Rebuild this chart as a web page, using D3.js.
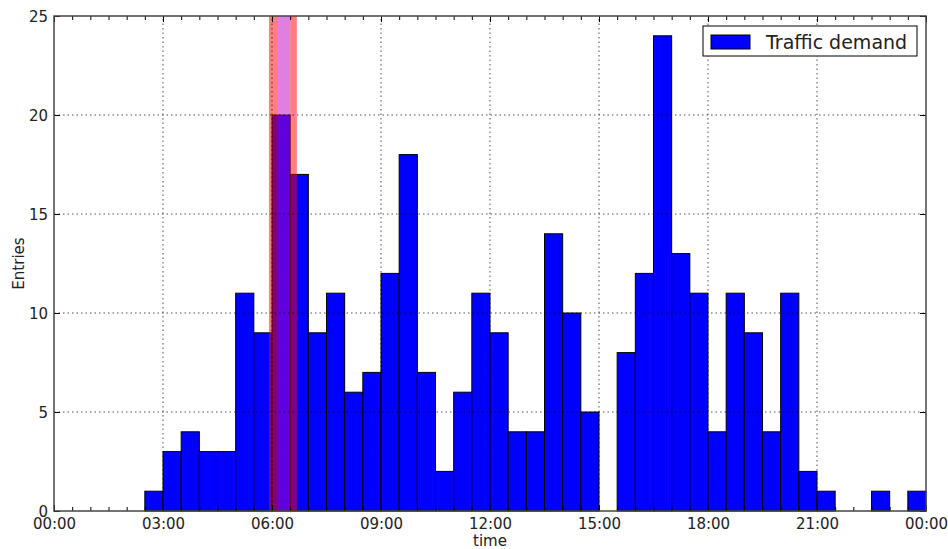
<!DOCTYPE html>
<html>
<head>
<meta charset="utf-8">
<script src="https://cdn.jsdelivr.net/npm/d3@7"></script>
<style>
  body { margin: 0; background: #fff; }
  svg { display: block; font-family: "DejaVu Sans", sans-serif; }
</style>
</head>
<body>
<div id="chart"></div>
<script>
// 30-minute bins starting at 00:00
const binStarts = [
  "00:00","00:30","01:00","01:30","02:00","02:30","03:00","03:30",
  "04:00","04:30","05:00","05:30","06:00","06:30","07:00","07:30",
  "08:00","08:30","09:00","09:30","10:00","10:30","11:00","11:30",
  "12:00","12:30","13:00","13:30","14:00","14:30","15:00","15:30",
  "16:00","16:30","17:00","17:30","18:00","18:30","19:00","19:30",
  "20:00","20:30","21:00","21:30","22:00","22:30","23:00","23:30"
];
const entries = [
  0, 0, 0, 0, 0, 1, 3, 4,
  3, 3, 11, 9, 20, 17, 9, 11,
  6, 7, 12, 18, 7, 2, 6, 11,
  9, 4, 4, 14, 10, 5, 0, 8,
  12, 24, 13, 11, 4, 11, 9, 4,
  11, 2, 1, 0, 0, 1, 0, 1
];
const yTicks = [0, 5, 10, 15, 20, 25];
// highlighted window around the morning peak
const redSpans = [["05:55", "06:10"], ["06:30", "06:41"]];
const magentaSpan = ["06:10", "06:30"];
const seriesName = "Traffic demand";

const W = 948, H = 549;
const margin = { top: 16, right: 22, bottom: 38, left: 54 };
const day0 = new Date(2000, 0, 1, 0, 0);
const day1 = new Date(2000, 0, 2, 0, 0);
const parse = s => {
  const [h, m] = s.split(":").map(Number);
  return new Date(2000, 0, 1, h, m);
};

const svg = d3.select("#chart").append("svg")
  .attr("width", W).attr("height", H);

const x = d3.scaleTime().domain([day0, day1])
  .range([margin.left, W - margin.right]);
const y = d3.scaleLinear().domain([0, 25])
  .range([H - margin.bottom, margin.top]);

const bins = binStarts.map((s, i) => ({
  x0: parse(s),
  x1: d3.timeMinute.offset(parse(s), 30),
  v: entries[i]
}));

/* ---- bars ---- */
svg.append("g").selectAll("rect")
  .data(bins.filter(d => d.v > 0))
  .join("rect")
  .attr("x", d => x(d.x0))
  .attr("width", d => x(d.x1) - x(d.x0))
  .attr("y", d => y(d.v))
  .attr("height", d => y(0) - y(d.v))
  .attr("fill", "#0000ff")
  .attr("stroke", "#000")
  .attr("stroke-width", 1);

/* ---- highlight spans ---- */
const spanG = svg.append("g");
spanG.selectAll("rect.red")
  .data(redSpans)
  .join("rect")
  .attr("class", "red")
  .attr("x", d => x(parse(d[0])))
  .attr("width", d => x(parse(d[1])) - x(parse(d[0])))
  .attr("y", y(25))
  .attr("height", y(0) - y(25))
  .attr("fill", "rgba(255,0,0,0.5)");
spanG.append("rect")
  .attr("x", x(parse(magentaSpan[0])))
  .attr("width", x(parse(magentaSpan[1])) - x(parse(magentaSpan[0])))
  .attr("y", y(25))
  .attr("height", y(0) - y(25))
  .attr("fill", "rgba(191,0,191,0.5)");

/* ---- grid (drawn above bars, classic style) ---- */
const xMajor = d3.timeHour.every(3).range(day0, d3.timeMinute.offset(day1, 1));
const xMinor = d3.timeMinute.every(30).range(day0, d3.timeMinute.offset(day1, 1));
const grid = svg.append("g")
  .attr("stroke", "#000").attr("stroke-width", 0.8)
  .attr("stroke-dasharray", "1.5,3").attr("opacity", 0.85);
grid.selectAll("line.gx")
  .data(xMajor.slice(1, -1))
  .join("line")
  .attr("class", "gx")
  .attr("x1", d => x(d)).attr("x2", d => x(d))
  .attr("y1", y(0)).attr("y2", y(25));
grid.selectAll("line.gy")
  .data(yTicks.slice(1, -1))
  .join("line")
  .attr("class", "gy")
  .attr("x1", x(day0)).attr("x2", x(day1))
  .attr("y1", d => y(d)).attr("y2", d => y(d));

/* ---- axes (ticks inward, both sides) ---- */
const fmt = d3.timeFormat("%H:%M");
svg.append("g").attr("transform", `translate(0,${y(0)})`)
  .call(d3.axisBottom(x).tickValues(xMajor).tickFormat(fmt).tickSize(-6).tickPadding(7));
svg.append("g").attr("transform", `translate(0,${y(25)})`)
  .call(d3.axisTop(x).tickValues(xMajor).tickFormat("").tickSize(-6));
svg.append("g").attr("transform", `translate(0,${y(0)})`)
  .call(d3.axisBottom(x).tickValues(xMinor).tickFormat("").tickSize(-4));
svg.append("g").attr("transform", `translate(0,${y(25)})`)
  .call(d3.axisTop(x).tickValues(xMinor).tickFormat("").tickSize(-4));
const axLeft = svg.append("g").attr("transform", `translate(${x(day0)},0)`)
  .call(d3.axisLeft(y).tickValues(yTicks).tickSize(-6).tickPadding(6));
svg.append("g").attr("transform", `translate(${x(day1)},0)`)
  .call(d3.axisRight(y).tickValues(yTicks).tickFormat("").tickSize(-6));

svg.selectAll(".domain").remove();
svg.selectAll(".tick line").attr("stroke", "#000").attr("stroke-width", 1);
svg.selectAll(".tick text")
  .attr("font-family", "DejaVu Sans, sans-serif")
  .attr("font-size", 15).attr("fill", "#222");
axLeft.selectAll(".tick text").attr("dy", "0.36em");

/* ---- frame ---- */
svg.append("rect")
  .attr("x", x(day0)).attr("y", y(25))
  .attr("width", x(day1) - x(day0)).attr("height", y(0) - y(25))
  .attr("fill", "none").attr("stroke", "#444").attr("stroke-width", 1.5);

/* ---- axis labels ---- */
svg.append("text")
  .attr("x", (x(day0) + x(day1)) / 2).attr("y", 546)
  .attr("text-anchor", "middle").attr("font-size", 15).attr("fill", "#222")
  .text("time");
svg.append("text")
  .attr("transform", `translate(24,${(y(0) + y(25)) / 2}) rotate(-90)`)
  .attr("text-anchor", "middle").attr("font-size", 15).attr("fill", "#222")
  .text("Entries");

/* ---- legend ---- */
const lg = svg.append("g").attr("transform", "translate(703,26)");
lg.append("rect").attr("width", 214).attr("height", 30)
  .attr("fill", "#fff").attr("stroke", "#000").attr("stroke-width", 1);
lg.append("rect").attr("x", 8).attr("y", 9).attr("width", 39).attr("height", 14)
  .attr("fill", "#0000ff").attr("stroke", "#000").attr("stroke-width", 1);
lg.append("text").attr("x", 63).attr("y", 23)
  .attr("font-size", 19).attr("fill", "#222").text(seriesName);
</script>
</body>
</html>
